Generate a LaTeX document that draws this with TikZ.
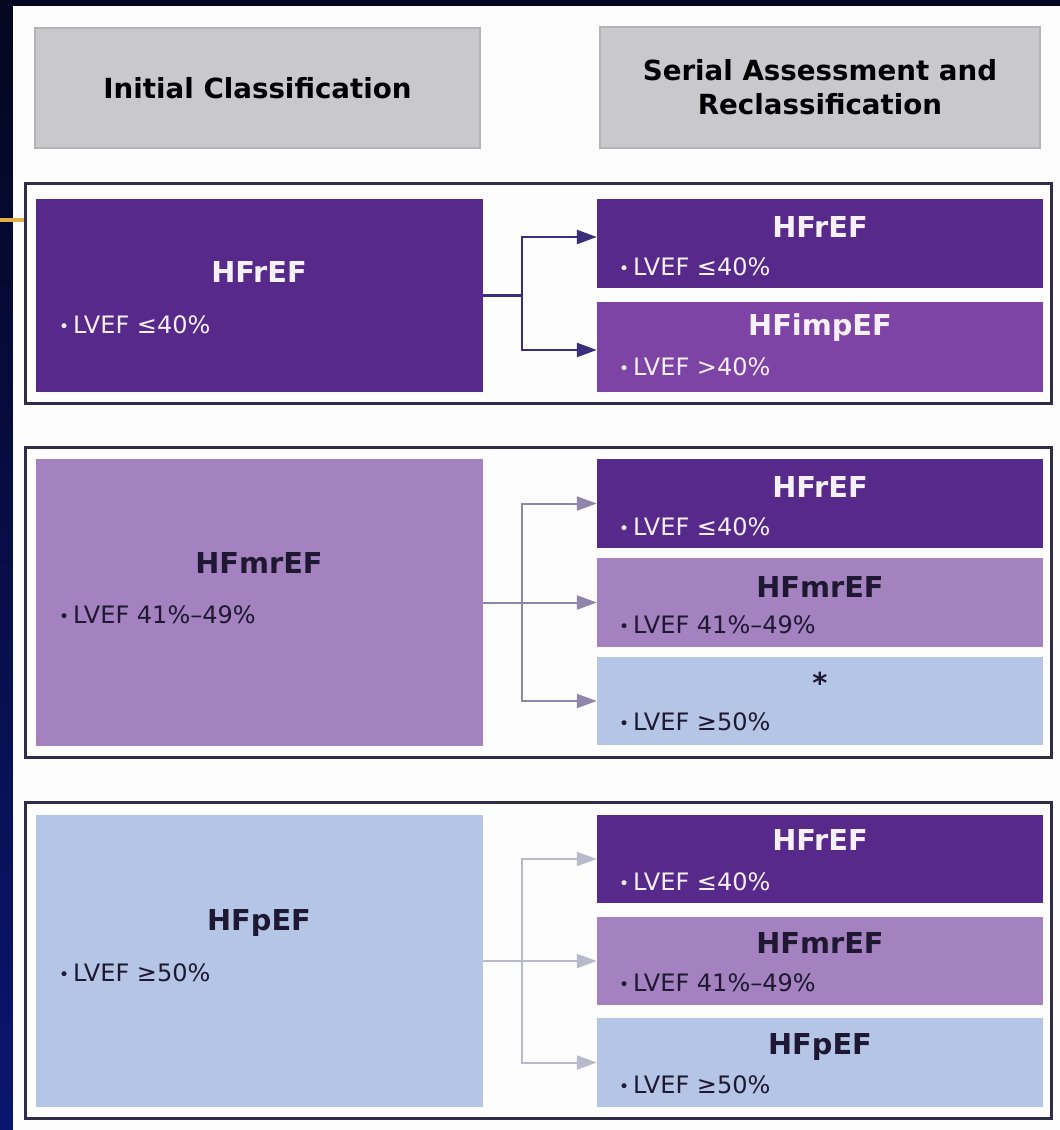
\documentclass[tikz,border=0pt]{standalone}
\usepackage{fontspec}
\setmainfont{DejaVu Sans}
\usetikzlibrary{arrows.meta}

\definecolor{slidedark}{HTML}{05061F}
\definecolor{slidemid}{HTML}{0A1A95}
\definecolor{slidelow}{HTML}{0A1570}
\definecolor{slidegold}{HTML}{E2AE45}
\definecolor{panel}{HTML}{FDFDFD}
\definecolor{hdrgray}{HTML}{C9C9CB}
\definecolor{hdredge}{HTML}{B3B3B5}
\definecolor{framec}{HTML}{2E2C48}
\definecolor{purpD}{HTML}{56298B}
\definecolor{purpM}{HTML}{7D44A6}
\definecolor{lavender}{HTML}{A382BF}
\definecolor{lblue}{HTML}{B5C5E5}
\definecolor{darktext}{HTML}{1E1833}
\definecolor{lighttext}{HTML}{F6F0FB}
\definecolor{conA}{HTML}{3A2D7D}
\definecolor{conB}{HTML}{8E86AB}
\definecolor{conC}{HTML}{B9B9CC}

\newcommand{\lvbul}{{\fontsize{17}{17}\selectfont\raisebox{1.5pt}{•}}\hspace{4pt}}

\tikzset{
  hdr/.style={fill=hdrgray, draw=hdredge, line width=1.5pt, inner sep=0pt,
    align=center, text=black, font=\bfseries\fontsize{27.7}{34}\selectfont},
  grp/.style={draw=framec, line width=3pt, inner sep=0pt},
  lbox/.style={inner sep=0pt, minimum width=447pt},
  rbox/.style={inner sep=0pt, minimum width=446pt},
  ttl/.style={inner sep=0pt, font=\bfseries\fontsize{28.8}{30}\selectfont},
  lv/.style={inner sep=0pt, anchor=west, font=\fontsize{24}{26}\selectfont},
  conn/.style={line width=#1},
  tip/.style={-{Triangle[length=20pt,width=14pt]}}
}

\begin{document}
\begin{tikzpicture}[x=1pt,y=-1pt]
\useasboundingbox (0,0) rectangle (1060,1130);

% slide backdrop and white panel
\fill[slidedark] (0,0) rectangle (1060,1130);
\shade[top color=slidedark, middle color=slidemid, bottom color=slidelow] (0,0) rectangle (13,1130);
\fill[panel] (13,6) rectangle (1060,1130);
\fill[slidegold] (0,218) rectangle (25,222);

% column headers
\node[hdr, minimum width=445pt, minimum height=120pt] (h1) at (257.5,88) {Initial Classification};
\node[hdr, minimum width=440pt, minimum height=121pt] (h2) at (820,87.5) {Serial Assessment and\\Reclassification};

% group frames
\node[grp, minimum width=1026pt, minimum height=220pt] (g1) at (538,293) {};
\node[grp, minimum width=1026pt, minimum height=310pt] (g2) at (538,602) {};
\node[grp, minimum width=1026pt, minimum height=316pt] (g3) at (538,960) {};

% ---- group 1: HFrEF ----
\node[lbox, fill=purpD, minimum height=193pt] (L1) at (259.5,295.5) {};
\node[rbox, fill=purpD, minimum height=89pt] (R1a) at (820,243.5) {};
\node[rbox, fill=purpM, minimum height=90pt] (R1b) at (820,347) {};
\node[ttl, text=lighttext] (L1t) at (259,272) {HFrEF};
\node[lv, text=lighttext] (L1v) at (59,325) {\lvbul LVEF ≤40\%};
\node[ttl, text=lighttext] (R1at) at (820,227) {HFrEF};
\node[lv, text=lighttext] (R1av) at (619,267) {\lvbul LVEF ≤40\%};
\node[ttl, text=lighttext] (R1bt) at (820,328) {HFimpEF};
\node[lv, text=lighttext] (R1bv) at (619,367) {\lvbul LVEF >40\%};

\coordinate (j1) at (522,295.5);
\draw[conn=2.5pt, conA] (L1.east) -- (j1);
\draw[conn=2.5pt, conA, tip] (j1) |- ([yshift=6.5pt]R1a.west);
\draw[conn=2.5pt, conA, tip] (j1) |- ([yshift=-3pt]R1b.west);

% ---- group 2: HFmrEF ----
\node[lbox, fill=lavender, minimum height=287pt] (L2) at (259.5,602.5) {};
\node[rbox, fill=purpD, minimum height=89pt] (R2a) at (820,503.5) {};
\node[rbox, fill=lavender, minimum height=89pt] (R2b) at (820,602.5) {};
\node[rbox, fill=lblue, minimum height=88pt] (R2c) at (820,701) {};
\node[ttl, text=darktext] (L2t) at (259,563) {HFmrEF};
\node[lv, text=darktext] (L2v) at (59,615) {\lvbul LVEF 41\%–49\%};
\node[ttl, text=lighttext] (R2at) at (820,487) {HFrEF};
\node[lv, text=lighttext] (R2av) at (619,527) {\lvbul LVEF ≤40\%};
\node[ttl, text=darktext] (R2bt) at (820,587) {HFmrEF};
\node[lv, text=darktext] (R2bv) at (619,625) {\lvbul LVEF 41\%–49\%};
\node[ttl, text=darktext] (R2ct) at (820,683) {*};
\node[lv, text=darktext] (R2cv) at (619,722) {\lvbul LVEF ≥50\%};

\coordinate (j2) at (522,602.5);
\draw[conn=2pt, conB] (L2.east) -- (j2);
\draw[conn=2pt, conB, tip] (j2) |- (R2a.west);
\draw[conn=2pt, conB, tip] (j2) -- (R2b.west);
\draw[conn=2pt, conB, tip] (j2) |- (R2c.west);

% ---- group 3: HFpEF ----
\node[lbox, fill=lblue, minimum height=292pt] (L3) at (259.5,961) {};
\node[rbox, fill=purpD, minimum height=88pt] (R3a) at (820,859) {};
\node[rbox, fill=lavender, minimum height=88pt] (R3b) at (820,961) {};
\node[rbox, fill=lblue, minimum height=89pt] (R3c) at (820,1062.5) {};
\node[ttl, text=darktext] (L3t) at (259,923) {HFpEF};
\node[lv, text=darktext] (L3v) at (59,973) {\lvbul LVEF ≥50\%};
\node[ttl, text=lighttext] (R3at) at (820,840) {HFrEF};
\node[lv, text=lighttext] (R3av) at (619,882) {\lvbul LVEF ≤40\%};
\node[ttl, text=darktext] (R3bt) at (820,943) {HFmrEF};
\node[lv, text=darktext] (R3bv) at (619,983) {\lvbul LVEF 41\%–49\%};
\node[ttl, text=darktext] (R3ct) at (820,1047) {HFpEF};
\node[lv, text=darktext] (R3cv) at (619,1085) {\lvbul LVEF ≥50\%};

\coordinate (j3) at (522,961);
\draw[conn=2pt, conC] (L3.east) -- (j3);
\draw[conn=2pt, conC, tip] (j3) |- (R3a.west);
\draw[conn=2pt, conC, tip] (j3) -- (R3b.west);
\draw[conn=2pt, conC, tip] (j3) |- (R3c.west);
\end{tikzpicture}
\end{document}
